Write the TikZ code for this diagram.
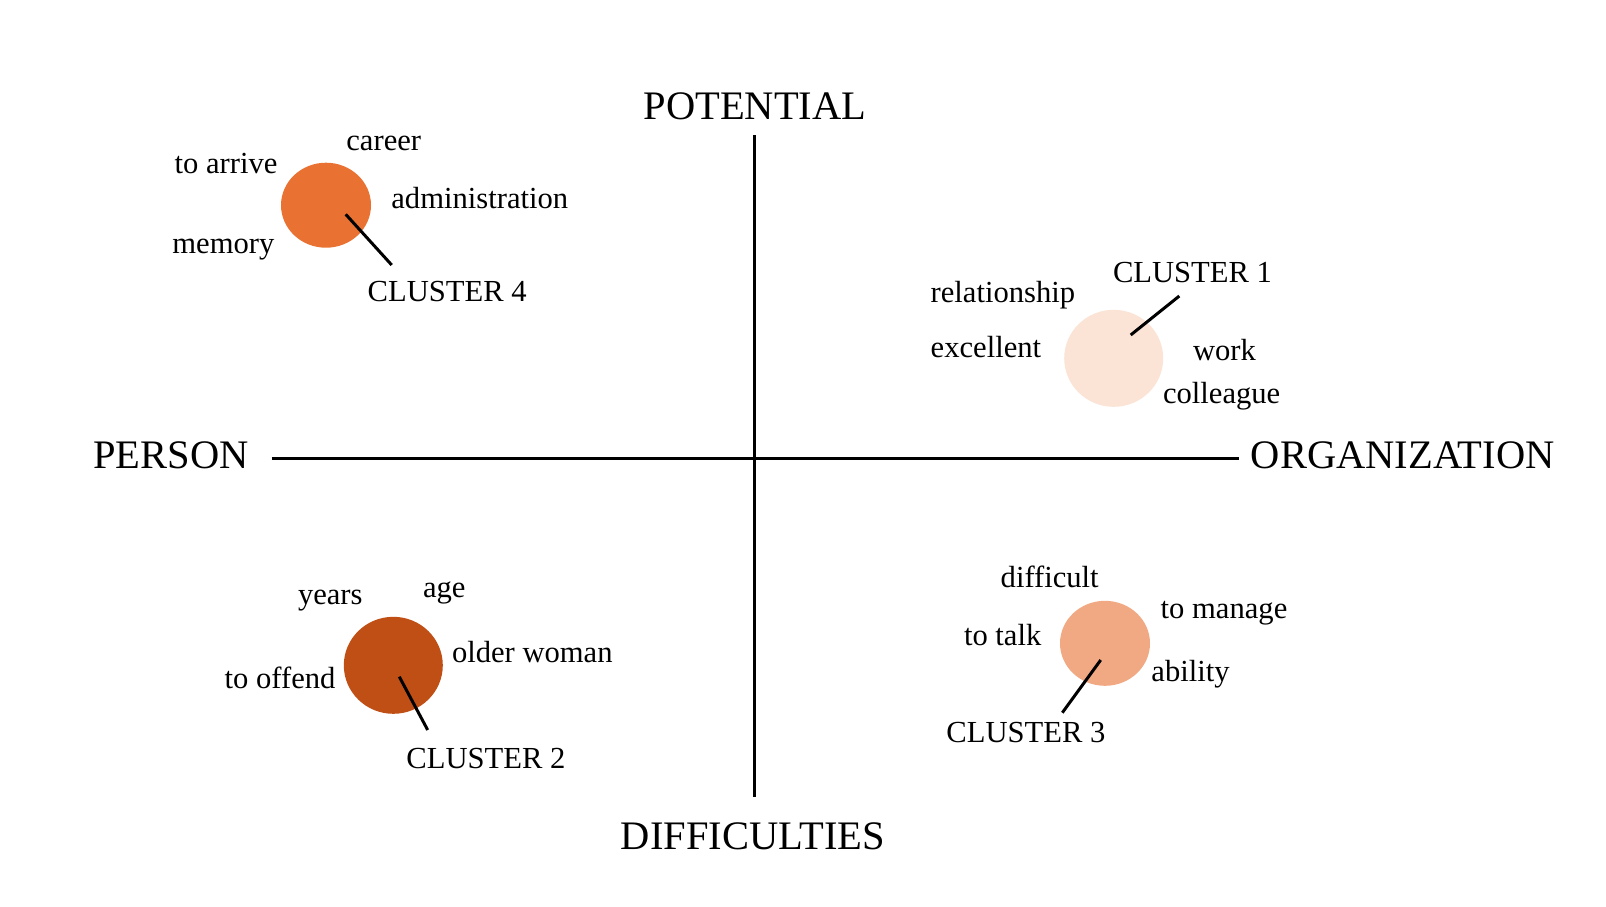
\documentclass[tikz,border=0pt]{standalone}
\usepackage{fontspec}
\setmainfont{Liberation Serif}
\usetikzlibrary{shapes.geometric}
\definecolor{cOne}{HTML}{FBE3D6}
\definecolor{cTwo}{HTML}{C04F15}
\definecolor{cThree}{HTML}{F1A983}
\definecolor{cFour}{HTML}{E97132}
\begin{document}
\begin{tikzpicture}[x=1pt,y=-1pt,
  word/.style={anchor=base west,inner sep=0pt,font=\fontsize{30.6}{36}\selectfont},
  axlabel/.style={anchor=base west,inner sep=0pt,font=\fontsize{40.5}{48}\selectfont},
  blob/.style={ellipse,draw=none,inner sep=0pt},
  axis/.style={line width=3pt},
  link/.style={line width=3pt}]
\useasboundingbox (0,0) rectangle (1606,906);
% axes
\coordinate (vt) at (754.3,135);
\coordinate (vb) at (754.3,797);
\coordinate (hl) at (271.5,458.5);
\coordinate (hr) at (1238.5,458.5);
\draw[axis] (vt) -- (vb);
\draw[axis] (hl) -- (hr);
\node[axlabel] (pot) at (643.5,119) {POTENTIAL};
\node[axlabel] (dif) at (620.6,849) {DIFFICULTIES};
\node[axlabel] (per) at (93.2,468.5) {PERSON};
\node[axlabel] (org) at (1250.6,468.5) {ORGANIZATION};
% cluster 4
\node[blob,fill=cFour,minimum width=90pt,minimum height=85pt] (c4) at (326,205.2) {};
\node[word] (w41) at (346.2,150.3) {career};
\node[word] (w42) at (174.5,173) {to arrive};
\node[word] (w43) at (391.2,208.7) {administration};
\node[word] (w44) at (172.2,253) {memory};
\node[word] (l4) at (367.5,301) {CLUSTER 4};
\coordinate (a4) at (345.7,214.3);
\coordinate (b4) at (391.7,265);
\draw[link] (a4) -- (b4);
% cluster 1
\node[blob,fill=cOne,minimum width=99pt,minimum height=97pt] (c1) at (1113.7,358.3) {};
\node[word] (w11) at (930.5,302) {relationship};
\node[word] (w12) at (930.5,357) {excellent};
\node[word] (w13) at (1192.8,360) {work};
\node[word] (w14) at (1162.8,403) {colleague};
\node[word] (l1) at (1112.8,282.5) {CLUSTER 1};
\coordinate (a1) at (1130.7,335);
\coordinate (b1) at (1179.3,296);
\draw[link] (a1) -- (b1);
% cluster 2
\node[blob,fill=cTwo,minimum width=99pt,minimum height=97pt] (c2) at (393.3,665.3) {};
\node[word] (w21) at (297.8,604) {years};
\node[word] (w22) at (422.8,597) {age};
\node[word] (w23) at (451.8,662.5) {older woman};
\node[word] (w24) at (224.5,688) {to offend};
\node[word] (l2) at (406.2,768) {CLUSTER 2};
\coordinate (a2) at (399.3,676.7);
\coordinate (b2) at (427.7,730);
\draw[link] (a2) -- (b2);
% cluster 3
\node[blob,fill=cThree,minimum width=90pt,minimum height=85pt] (c3) at (1105,643.3) {};
\node[word] (w31) at (1000.5,587) {difficult};
\node[word] (w32) at (1160.5,618) {to manage};
\node[word] (w33) at (963.8,645) {to talk};
\node[word] (w34) at (1151.2,681) {ability};
\node[word] (l3) at (946.2,742.5) {CLUSTER 3};
\coordinate (a3) at (1100.7,660);
\coordinate (b3) at (1062.3,712.7);
\draw[link] (a3) -- (b3);
\end{tikzpicture}
\end{document}
